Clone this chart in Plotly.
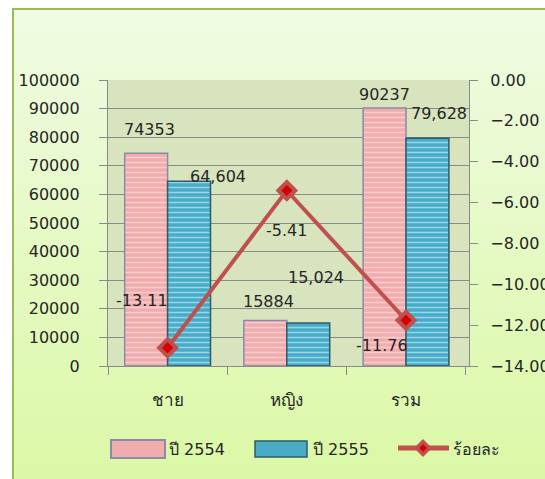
import plotly.graph_objects as go

categories = ["ชาย", "หญิง", "รวม"]
values_2554 = [74353, 15884, 90237]
values_2555 = [64604, 15024, 79628]
percent_change = [-13.11, -5.41, -11.76]
labels_2554 = ["74353", "15884", "90237"]
labels_2555 = ["64,604", "15,024", "79,628"]
labels_pct = ["-13.11", "-5.41", "-11.76"]
legend_names = ["ปี 2554", "ปี 2555", "ร้อยละ"]
left_ticks = list(range(0, 100001, 10000))
right_ticks = [0, -2, -4, -6, -8, -10, -12, -14]

# body margin is removed in post_script, so the figure sits at (0, 0)
W, H = 545, 479
L, R, T, B = 108, 76, 80, 113
PW, PH = W - L - R, H - T - B

def px(x):  # screen pixel -> paper
    return (x - L) / PW

def py(y):
    return (H - B - y) / PH

FONT = "Tahoma, DejaVu Sans, sans-serif"
TXT = "#262626"
GRID = "#8a8a8a"

fig = go.Figure()

fig.add_trace(go.Bar(
    x=categories, y=values_2554, name=legend_names[0],
    marker=dict(color="#f1adad", line=dict(color="#8b8aa8", width=1.5),
                pattern=dict(shape="-", fgcolor="#fbdada", fgopacity=0.7, size=5, solidity=0.3)),
    showlegend=False,
))
fig.add_trace(go.Bar(
    x=categories, y=values_2555, name=legend_names[1],
    marker=dict(color="#4aabc7", line=dict(color="#2e5a6a", width=1.5),
                pattern=dict(shape="-", fgcolor="#aee6f4", fgopacity=0.75, size=5, solidity=0.3)),
    showlegend=False,
))
fig.add_trace(go.Scatter(
    x=categories, y=percent_change, name=legend_names[2], yaxis="y2",
    mode="lines+markers",
    line=dict(color="#c0504d", width=4),
    marker=dict(symbol="diamond", size=13, color="#d40000",
                line=dict(color="#c0504d", width=4)),
    showlegend=False,
))

annotations = []
def lab(text, x, y, yref, xs, ys):
    annotations.append(dict(text=text, x=x, y=y, xref="x", yref=yref,
                            xshift=xs, yshift=ys, showarrow=False,
                            font=dict(family=FONT, size=16, color=TXT)))

shift_2554 = [(-18, 24), (-18, 19), (-22, 13)]
shift_2555 = [(50, 5), (29, 46), (33, 25)]
shift_pct = [(-26, 47), (0, -40), (-24, -25)]
for i, c in enumerate(categories):
    lab(labels_2554[i], c, values_2554[i], "y", *shift_2554[i])
    lab(labels_2555[i], c, values_2555[i], "y", *shift_2555[i])
    lab(labels_pct[i], c, percent_change[i], "y2", *shift_pct[i])

shapes = []
# chart-area background with vertical gradient and green border
top_c = (0xf0, 0xfb, 0xe2)
bot_c = (0xdb, 0xf8, 0xa6)
y_start, y_end = 9, H + 12
n = 24
for k in range(n):
    t = k / (n - 1)
    c = tuple(round(top_c[j] + (bot_c[j] - top_c[j]) * t) for j in range(3))
    ya = y_start + (y_end - y_start) * k / n
    yb = y_start + (y_end - y_start) * (k + 1) / n + 1
    shapes.append(dict(type="rect", xref="paper", yref="paper", layer="below",
                       x0=px(13), x1=px(W + 12), y0=py(ya), y1=py(yb),
                       fillcolor="rgb(%d,%d,%d)" % c, line=dict(width=0)))
shapes.append(dict(type="rect", xref="paper", yref="paper", layer="below",
                   x0=px(13), x1=px(W + 12), y0=py(9), y1=py(H + 12),
                   fillcolor="rgba(0,0,0,0)", line=dict(color="#9bbb59", width=2)))
# plot area
shapes.append(dict(type="rect", xref="paper", yref="paper", layer="below",
                   x0=0, x1=1, y0=0, y1=1, fillcolor="#d8e4bd", line=dict(width=0)))

# legend swatches
shapes.append(dict(type="rect", xref="paper", yref="paper",
                   x0=px(111), x1=px(165), y0=py(458), y1=py(440),
                   fillcolor="#f1adad", line=dict(color="#8b8aa8", width=2)))
shapes.append(dict(type="rect", xref="paper", yref="paper",
                   x0=px(255), x1=px(307), y0=py(457), y1=py(441),
                   fillcolor="#4aabc7", line=dict(color="#2e5a6a", width=1.5)))
shapes.append(dict(type="line", xref="paper", yref="paper",
                   x0=px(398), x1=px(449), y0=py(448), y1=py(448),
                   line=dict(color="#c0504d", width=5)))
cx, cy, r = 423, 448, 9
shapes.append(dict(type="path", xref="paper", yref="paper",
                   path="M %f %f L %f %f L %f %f L %f %f Z" % (
                       px(cx - r), py(cy), px(cx), py(cy - r), px(cx + r), py(cy), px(cx), py(cy + r)),
                   fillcolor="#c0504d", line=dict(width=0)))
r2 = 4
shapes.append(dict(type="path", xref="paper", yref="paper",
                   path="M %f %f L %f %f L %f %f L %f %f Z" % (
                       px(cx - r2), py(cy), px(cx), py(cy - r2), px(cx + r2), py(cy), px(cx), py(cy + r2)),
                   fillcolor="#d40000", line=dict(width=0)))

for name, xpos in zip(legend_names, [167, 311, 451]):
    annotations.append(dict(text=name, x=px(xpos), y=py(449), xref="paper", yref="paper",
                            xanchor="left", yanchor="middle", showarrow=False,
                            font=dict(family=FONT, size=16, color=TXT)))

fig.update_layout(
    width=W, height=H,
    margin=dict(l=L, r=R, t=T, b=B, autoexpand=False),
    paper_bgcolor="white",
    plot_bgcolor="rgba(0,0,0,0)",
    barmode="group", bargap=0.28, bargroupgap=0,
    font=dict(family=FONT, size=16, color=TXT),
    showlegend=False,
    shapes=shapes,
    annotations=annotations,
    xaxis=dict(showgrid=False, showline=True, linecolor=GRID, linewidth=1.3,
               ticks="outside", tickson="boundaries", ticklen=8, tickcolor=GRID,
               tickwidth=1.3, ticklabelstandoff=18,
               tickfont=dict(family=FONT, size=17, color=TXT)),
    yaxis=dict(range=[0, 100000], tickvals=left_ticks, ticktext=[str(v) for v in left_ticks],
               showgrid=True, gridcolor=GRID, gridwidth=1.3, zeroline=False,
               showline=True, linecolor=GRID, linewidth=1.3,
               ticks="outside", ticklen=8, tickcolor=GRID, tickwidth=1.3,
               ticklabelstandoff=16,
               tickfont=dict(family=FONT, size=16, color=TXT)),
    yaxis2=dict(range=[-14, 0], overlaying="y", side="right", tickvals=right_ticks,
                tickformat=".2f", showgrid=False, zeroline=False,
                showline=True, linecolor=GRID, linewidth=1.3,
                ticks="outside", ticklen=8, tickcolor=GRID, tickwidth=1.3,
                ticklabelstandoff=9,
                tickfont=dict(family=FONT, size=16, color=TXT)),
)

fig.write_html("out.html",
               config={"displayModeBar": False},
               post_script="document.body.style.margin='0';"
                           "document.documentElement.style.overflow='hidden';"
                           "document.body.style.overflow='hidden';")
